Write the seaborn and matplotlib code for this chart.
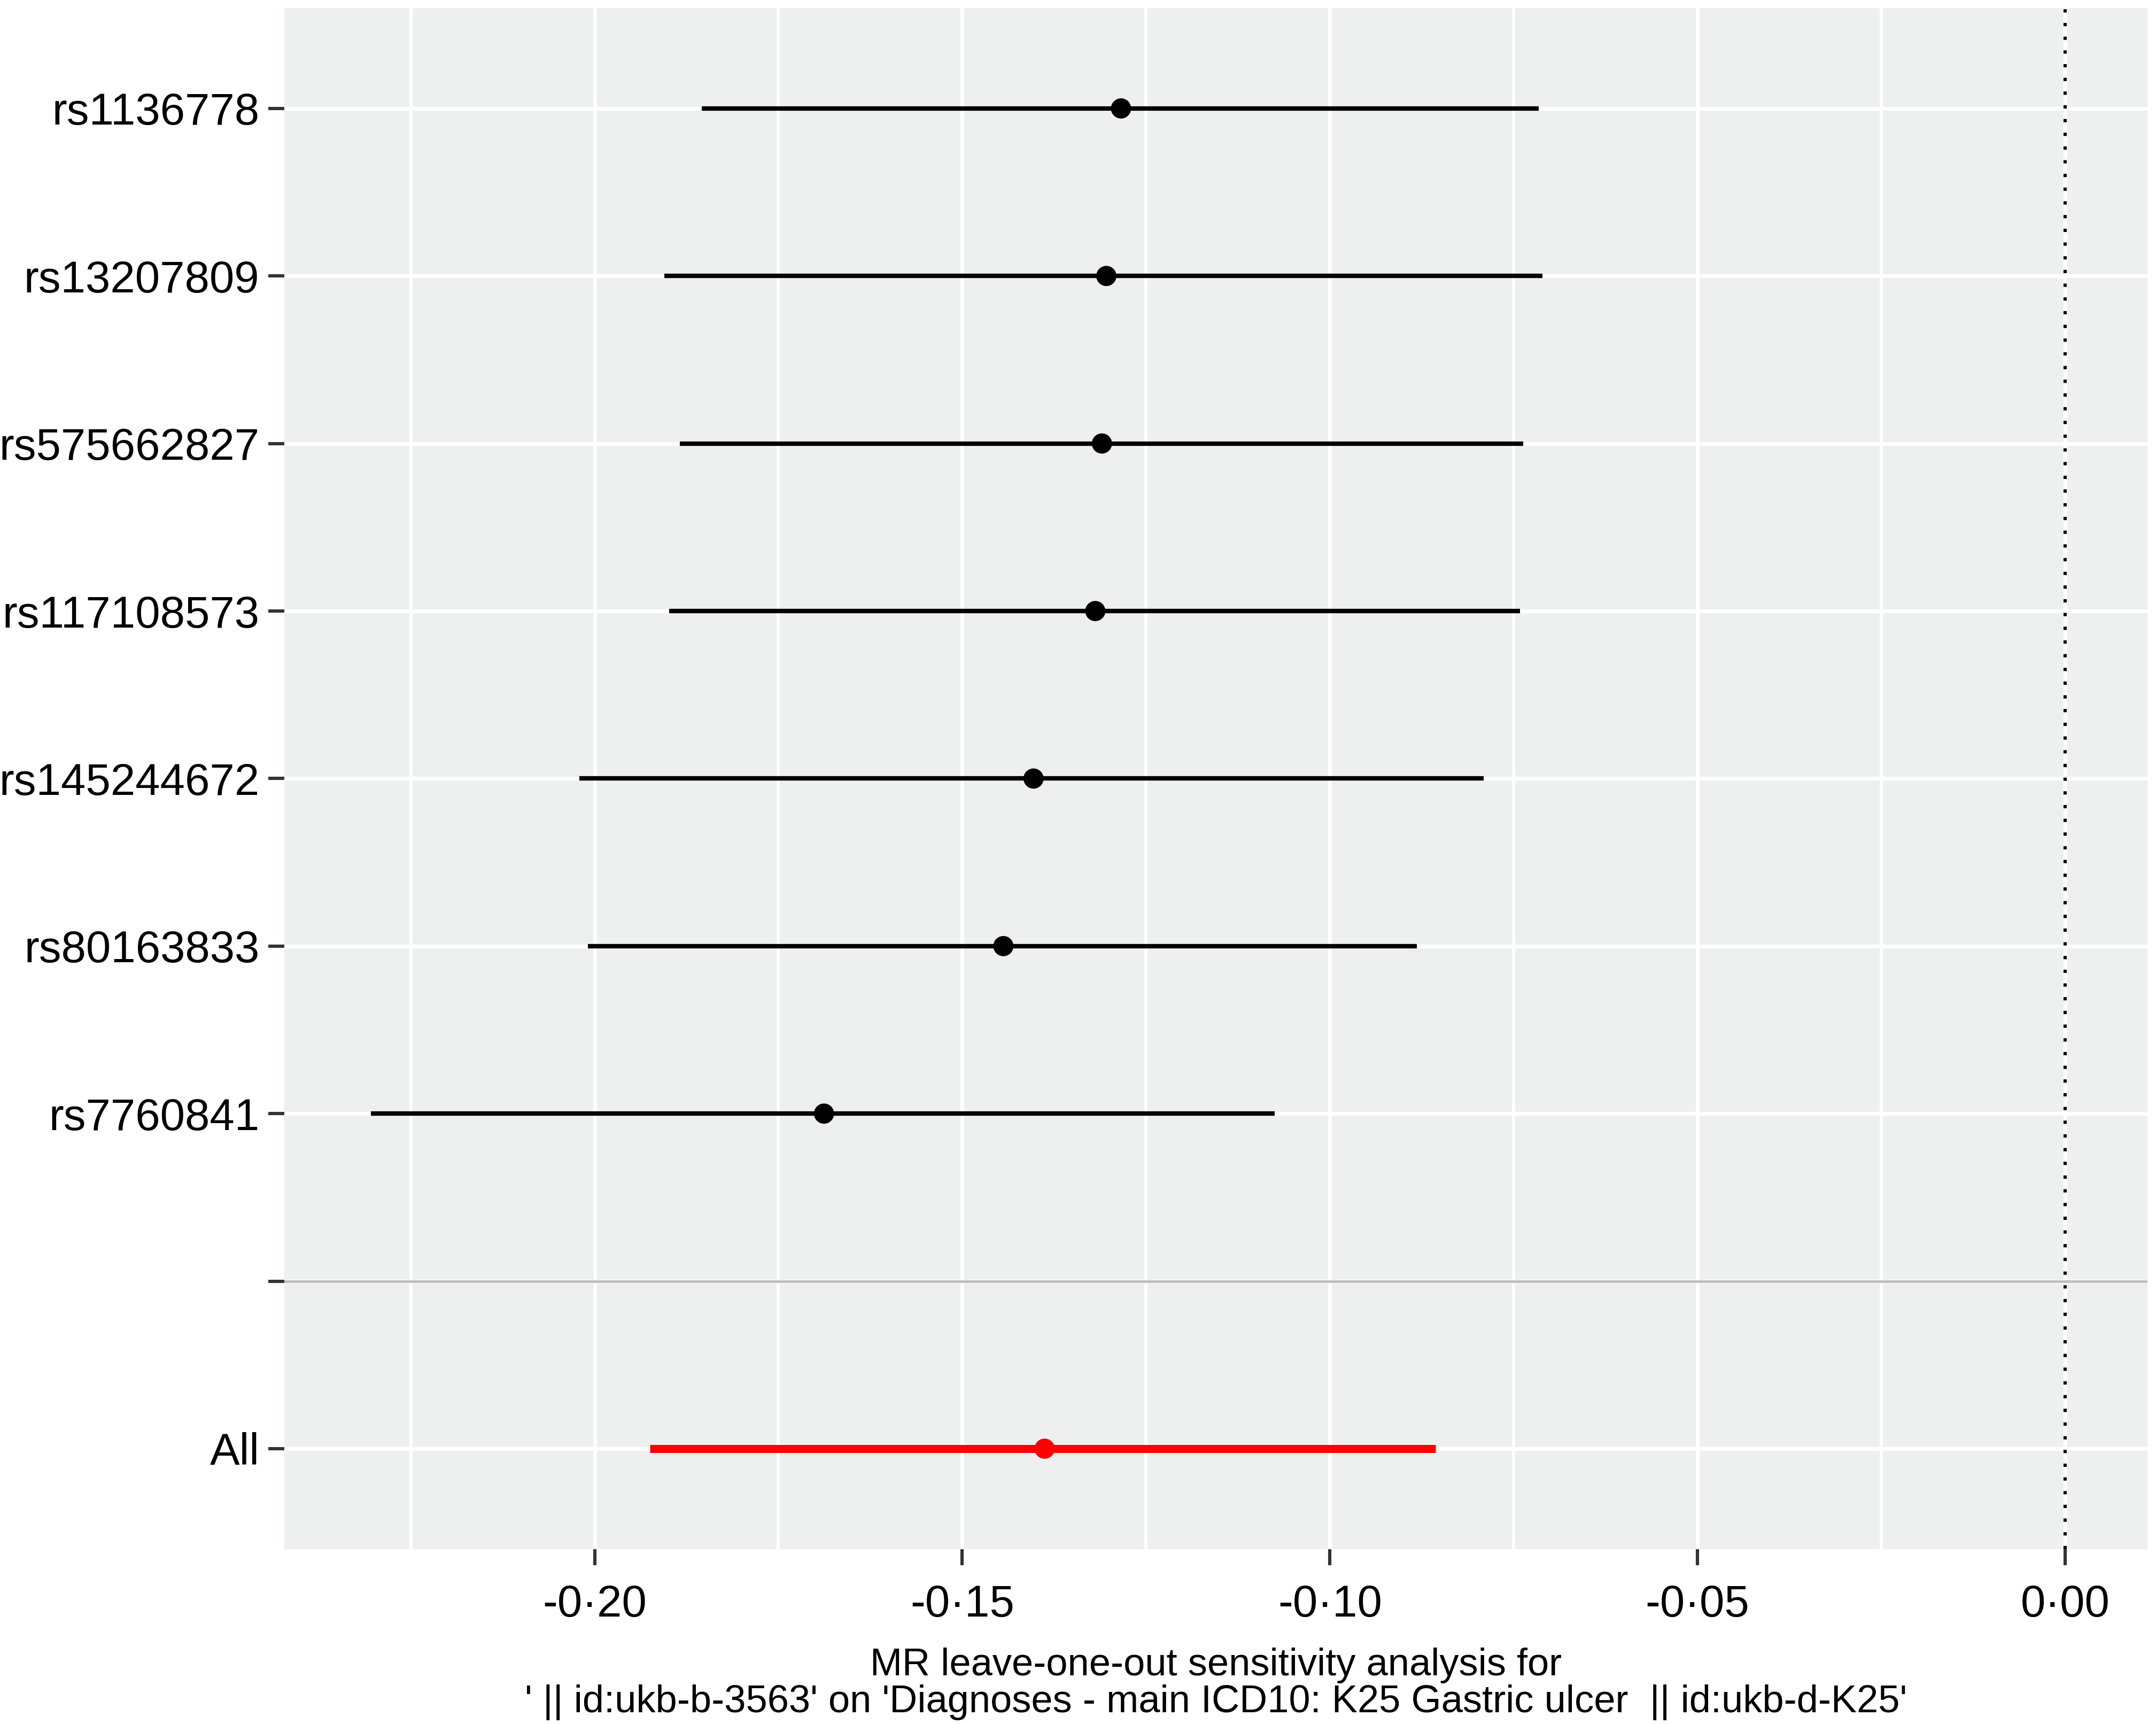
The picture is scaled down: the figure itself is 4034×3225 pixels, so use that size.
import matplotlib

matplotlib.use("Agg")

import matplotlib.pyplot as plt
import numpy as np
import pandas as pd
import seaborn as sns
from matplotlib.ticker import FixedLocator, FuncFormatter, MultipleLocator

# leave-one-out estimates (top to bottom); the blank row separates "All"
SNPS = [
    "rs1136778", "rs13207809", "rs575662827", "rs117108573",
    "rs145244672", "rs80163833", "rs7760841", "", "All",
]
BETA = [-0.1284, -0.1304, -0.1310, -0.1319, -0.1403, -0.1444, -0.1688, np.nan, -0.1388]
LOWER = [-0.1854, -0.1905, -0.1884, -0.1899, -0.2021, -0.2009, -0.2304, np.nan, -0.1925]
UPPER = [-0.0716, -0.0711, -0.0737, -0.0741, -0.0791, -0.0882, -0.1075, np.nan, -0.0856]
X_TICKS = [-0.20, -0.15, -0.10, -0.05, 0.00]
X_LABEL = (
    "MR leave-one-out sensitivity analysis for\n"
    "' || id:ukb-b-3563' on 'Diagnoses - main ICD10: K25 Gastric ulcer  || id:ukb-d-K25'"
)

PANEL_BG = "#EEEFEF"
TICK_COLOR = "#333333"


def setup_style() -> None:
    sns.set_theme(style="darkgrid", rc={"axes.facecolor": PANEL_BG})
    plt.rcParams["font.family"] = ["Liberation Sans", "DejaVu Sans"]


def build_frame() -> pd.DataFrame:
    data = pd.DataFrame({"SNP": SNPS, "b": BETA, "lo": LOWER, "hi": UPPER})
    data["pos"] = np.arange(len(data))
    data["is_all"] = data["SNP"] == "All"
    return data


def fmt_tick(value: float, _pos) -> str:
    text = f"{value:.2f}".replace(".", "\u00b7")
    return "0\u00b700" if text == "-0\u00b700" else text


def main() -> None:
    setup_style()
    data = build_frame()

    fig = plt.figure(figsize=(20.17, 16.125), dpi=200)
    ax = fig.add_axes([0.1319, 0.1014, 0.8641, 0.8940])
    ax.set_facecolor(PANEL_BG)

    # separator line at the blank category
    blank_pos = data.loc[data["SNP"] == "", "pos"].iloc[0]
    ax.axhline(blank_pos, color="#BEBEBE", linewidth=1.8, zorder=1.5)

    snp_rows = data[~data["is_all"]].dropna()
    all_row = data[data["is_all"]]
    ax.hlines(snp_rows["pos"], snp_rows["lo"], snp_rows["hi"], color="black", linewidth=3.0, zorder=3)
    ax.hlines(all_row["pos"], all_row["lo"], all_row["hi"], color="red", linewidth=5.4, zorder=3)

    sns.scatterplot(
        data=data.dropna(), x="b", y="pos", hue="is_all",
        palette={False: "black", True: "red"}, s=185, linewidth=0,
        legend=False, ax=ax, zorder=4,
    )

    ax.axvline(0, color="black", linestyle=(0, (1, 3.2)), linewidth=2.2, zorder=2)

    ax.set_xlim(-0.2422, 0.0112)
    ax.set_ylim(len(data) - 1 + 0.6, -0.6)
    ax.xaxis.set_major_locator(FixedLocator(X_TICKS))
    ax.xaxis.set_minor_locator(MultipleLocator(0.025))
    ax.xaxis.set_major_formatter(FuncFormatter(fmt_tick))
    ax.yaxis.set_major_locator(FixedLocator(data["pos"].tolist()))
    ax.set_yticklabels(SNPS)

    ax.grid(True, which="major", color="white", linewidth=2.6)
    ax.grid(True, which="minor", axis="x", color="white", linewidth=2.2)
    ax.set_axisbelow(True)
    for spine in ax.spines.values():
        spine.set_visible(False)

    ax.tick_params(axis="both", which="major", length=10.8, width=2.2, color=TICK_COLOR,
                   labelsize=30, labelcolor="black", bottom=True, left=True)
    ax.tick_params(axis="y", which="major", pad=6)
    ax.tick_params(axis="x", which="major", pad=12.5)
    ax.tick_params(axis="both", which="minor", length=0)

    ax.set_ylabel("")
    ax.set_xlabel(X_LABEL, fontsize=26, color="black", labelpad=15, linespacing=1.03)

    fig.savefig("out.png", dpi=200)
    plt.close(fig)


if __name__ == "__main__":
    main()
